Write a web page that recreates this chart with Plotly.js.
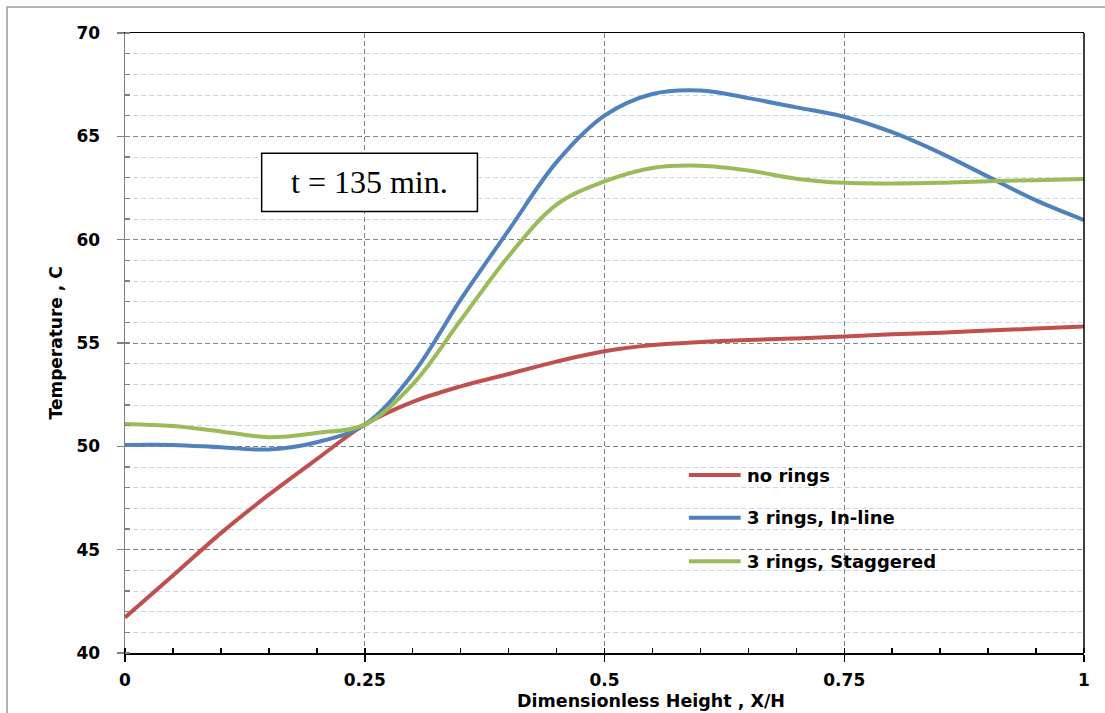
<!DOCTYPE html>
<html>
<head>
<meta charset="utf-8">
<script src="https://cdn.plot.ly/plotly-3.0.1.min.js"></script>
<style>html,body{margin:0;padding:0;background:#fff;}#chart{width:1105px;height:713px;}</style>
</head>
<body>
<div id="chart"></div>
<script>
// Dimensionless height X/H
const xH = [0, 0.05, 0.1, 0.15, 0.2, 0.25, 0.3, 0.35, 0.4, 0.45, 0.5, 0.55, 0.6, 0.65, 0.7, 0.75, 0.8, 0.85, 0.9, 0.95, 1.0];
// Temperature, C
const noRings   = [41.72, 43.75, 45.8, 47.66, 49.38, 51.05, 52.15, 52.9, 53.5, 54.1, 54.6, 54.9, 55.05, 55.15, 55.22, 55.32, 55.42, 55.5, 55.6, 55.7, 55.8];
const inLine    = [50.07, 50.07, 49.95, 49.85, 50.2, 51.05, 53.5, 57.1, 60.45, 63.75, 66.0, 67.05, 67.22, 66.85, 66.4, 65.95, 65.2, 64.2, 63.05, 61.9, 60.95];
const staggered = [51.08, 50.98, 50.72, 50.44, 50.65, 51.05, 53.0, 56.1, 59.2, 61.7, 62.82, 63.47, 63.58, 63.35, 62.95, 62.75, 62.72, 62.75, 62.83, 62.88, 62.93];

const seriesNames = ["no rings", "3 rings, In-line", "3 rings, Staggered"];
const seriesColors = ["#C0504D", "#4F81BD", "#9BBB59"];
const seriesData = [noRings, inLine, staggered];

const xTickVals = [0, 0.25, 0.5, 0.75, 1];
const xTickText = ["0", "0.25", "0.5", "0.75", "1"];
const yTickVals = [40, 45, 50, 55, 60, 65, 70];

const boxLabel = "t = 135 min.";
const xTitle = "Dimensionless Height , X/H";
const yTitle = "Temperature , C";

const FONT = "DejaVu Sans";

const traces = seriesData.map((ys, i) => ({
  x: xH, y: ys, type: "scatter", mode: "lines", name: seriesNames[i],
  line: {color: seriesColors[i], width: 4, shape: "spline", smoothing: 1},
  showlegend: false, hoverinfo: "skip"
}));

// manual legend
const legY = [0.287, 0.218, 0.148];
const shapes = [];
const annotations = [];
seriesNames.forEach((n, i) => {
  shapes.push({type: "line", xref: "paper", yref: "paper", x0: 0.588, x1: 0.642, y0: legY[i], y1: legY[i],
    line: {color: seriesColors[i], width: 4}});
  annotations.push({xref: "paper", yref: "paper", x: 0.647, y: legY[i], xanchor: "left", yanchor: "middle",
    text: n, showarrow: false, font: {family: FONT, size: 18, color: "#000", weight: "bold"}});
});

// outer border
shapes.push({type: "rect", xref: "paper", yref: "paper", x0: -0.123, x1: 1.2, y0: -0.3, y1: 1.042,
  line: {color: "#9a9a9a", width: 1.5}, fillcolor: "rgba(0,0,0,0)", layer: "below"});
// right border of plot
shapes.push({type: "line", xref: "paper", yref: "paper", x0: 1, x1: 1, y0: 0, y1: 1,
  line: {color: "#000", width: 1.5}});
// text box
shapes.push({type: "rect", xref: "paper", yref: "paper", x0: 0.1425, x1: 0.3675, y0: 0.712, y1: 0.806,
  line: {color: "#000", width: 1.5}, fillcolor: "#fff", layer: "above"});
annotations.push({xref: "paper", yref: "paper", x: 0.255, y: 0.759, xanchor: "center", yanchor: "middle",
  text: boxLabel, showarrow: false, font: {family: "Liberation Serif", size: 32, color: "#000"}});
// axis titles
annotations.push({xref: "paper", yref: "paper", x: 0.5485, y: -0.0782, xanchor: "center", yanchor: "middle",
  text: xTitle, showarrow: false, font: {family: FONT, size: 17.5, color: "#000", weight: "bold"}});
annotations.push({xref: "paper", yref: "paper", x: -0.0715, y: 0.5, xanchor: "center", yanchor: "middle",
  textangle: -90, text: yTitle, showarrow: false, font: {family: FONT, size: 17, color: "#000", weight: "bold"}});

const layout = {
  width: 1105, height: 713,
  margin: {l: 125, r: 21, t: 33, b: 60},
  paper_bgcolor: "#fff", plot_bgcolor: "#fff",
  showlegend: false,
  font: {family: FONT, color: "#000"},
  xaxis: {
    range: [0, 1], tickvals: xTickVals, ticktext: xTickText,
    showline: true, linecolor: "#000", linewidth: 1.5, mirror: true,
    ticks: "outside", ticklen: 7, tickcolor: "#000", tickwidth: 1.5,
    ticklabelstandoff: 4,
    tickfont: {family: FONT, size: 17, color: "#000", weight: "bold"},
    showgrid: true, gridcolor: "#808080", griddash: "5px,3px", gridwidth: 1,
    zeroline: false,
    minor: {dtick: 0.05, ticks: "inside", ticklen: 5, tickcolor: "#000", tickwidth: 1.5, showgrid: false}
  },
  yaxis: {
    range: [40, 70], tickvals: yTickVals,
    showline: true, linecolor: "#808080", linewidth: 1.5, mirror: false,
    ticks: "outside", ticklen: 7, tickcolor: "#808080", tickwidth: 1.5,
    ticklabelstandoff: 13,
    tickfont: {family: FONT, size: 17, color: "#000", weight: "bold"},
    showgrid: true, gridcolor: "#808080", griddash: "5px,3px", gridwidth: 1,
    zeroline: false,
    minor: {dtick: 1, ticks: "inside", ticklen: 5, tickcolor: "#808080", tickwidth: 1.5,
      showgrid: true, gridcolor: "#c6d9f1", griddash: "5px,3px", gridwidth: 1}
  },
  shapes: shapes,
  annotations: annotations
};

Plotly.newPlot("chart", traces, layout, {displayModeBar: false, staticPlot: true});
</script>
</body>
</html>
